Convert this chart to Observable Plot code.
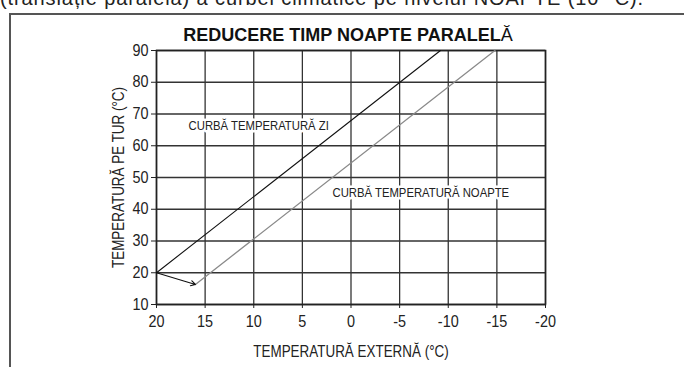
<!DOCTYPE html>
<html><head><meta charset="utf-8">
<script src="https://cdn.jsdelivr.net/npm/d3@7"></script>
<script src="https://cdn.jsdelivr.net/npm/@observablehq/plot@0.6"></script>
<style>
body{margin:0;background:#fff;}
#wrap{position:relative;width:684px;height:367px;overflow:hidden;font-family:"Liberation Sans",Arial,sans-serif;}
#cut{position:absolute;left:0;top:-13px;font-size:20px;letter-spacing:0.9px;white-space:nowrap;color:#222;}
#box{position:absolute;left:9px;top:13px;width:700px;height:400px;border-left:2px solid #555;border-top:2px solid #555;}
#chart{position:absolute;left:0;top:0;}
</style></head>
<body><div id="wrap"><div id="cut">(translație paralelă) a curbei climatice pe nivelul NOAPTE (10 °C).</div><div id="box"></div><div id="chart"></div></div>
<script>
const xTicks = [20, 15, 10, 5, 0, -5, -10, -15, -20];
const yTicks = [10, 20, 30, 40, 50, 60, 70, 80, 90];
const dayX = [20, -9.2];
const dayY = [20, 90];
const nightX = [16.0, -14.8];
const nightY = [16.3, 90];
const shiftX = [20, 16.0];
const shiftY = [20, 16.3];
const labelText = ["CURBĂ TEMPERATURĂ ZI", "CURBĂ TEMPERATURĂ NOAPTE"];
const labelX = [16.7, 1.9];
const labelY = [66.4, 45.3];
const title = "REDUCERE TIMP NOAPTE PARALEL";
const titleEnd = "Ă";

const day = dayX.map((x, i) => ({x, y: dayY[i]}));
const night = nightX.map((x, i) => ({x, y: nightY[i]}));
const labels = labelText.map((t, i) => ({t, x: labelX[i], y: labelY[i]}));
const font = '"Liberation Sans",Arial,sans-serif';

const chart = Plot.plot({
  width: 684, height: 367,
  marginLeft: 156, marginRight: 139, marginTop: 50, marginBottom: 63,
  style: {fontFamily: font, fontSize: "16px", color: "#222", background: "transparent"},
  x: {domain: [20, -20], ticks: xTicks, label: null},
  y: {domain: [10, 90], ticks: yTicks, label: null},
  marks: [
    Plot.gridX(xTicks, {stroke: "#333", strokeOpacity: 1, strokeWidth: 1.3}),
    Plot.gridY(yTicks, {stroke: "#333", strokeOpacity: 1, strokeWidth: 1.3}),
    Plot.text(labels, {x: "x", y: "y", text: "t", textAnchor: "start", fontSize: 13, fill: "#222", stroke: "white", strokeWidth: 5}),
    Plot.frame({stroke: "#222", strokeWidth: 1.6}),
    Plot.line(day, {x: "x", y: "y", stroke: "#111", strokeWidth: 1.1}),
    Plot.line(night, {x: "x", y: "y", stroke: "#8a8a8a", strokeWidth: 1.3}),
    Plot.arrow([{x1: shiftX[0], y1: shiftY[0], x2: shiftX[1], y2: shiftY[1]}], {x1: "x1", y1: "y1", x2: "x2", y2: "y2", stroke: "#111", strokeWidth: 1.1, headLength: 7}),
    Plot.axisX(xTicks, {tickSize: 4, tickPadding: 7, fontSize: 16, tickFormat: d => String(d), label: "TEMPERATURĂ EXTERNĂ (°C)", labelAnchor: "center", labelArrow: "none", labelOffset: 52}),
    Plot.axisY(yTicks, {tickSize: 5, tickPadding: 3, fontSize: 16, tickFormat: d => String(d), label: "TEMPERATURĂ PE TUR (°C)", labelAnchor: "center", labelArrow: "none", labelOffset: 44}),
    Plot.text([title], {frameAnchor: "top", dy: -22, fontSize: 18, fontWeight: "bold", fill: "#111", dx: -3})
  ]
});
document.getElementById("chart").appendChild(chart);

function squeeze(el, s) {
  const tr = el.getAttribute("transform");
  if (tr) { el.setAttribute("transform", tr + ` scale(${s},1)`); }
  else {
    const x = +(el.getAttribute("x") || 0), y = +(el.getAttribute("y") || 0);
    el.setAttribute("transform", `translate(${x},${y}) scale(${s},1) translate(${-x},${-y})`);
  }
}
d3.select(chart).selectAll("text").each(function(){
  const t = this.textContent;
  if (t === title) {
    d3.select(this).append("tspan").attr("font-weight", "normal").text(titleEnd);
  } else if (labelText.includes(t)) {
    squeeze(this, 0.87);
  } else if (t.startsWith("TEMPERATURĂ")) {
    squeeze(this, 0.84);
  } else {
    squeeze(this, 0.9);
  }
});
</script></body></html>
